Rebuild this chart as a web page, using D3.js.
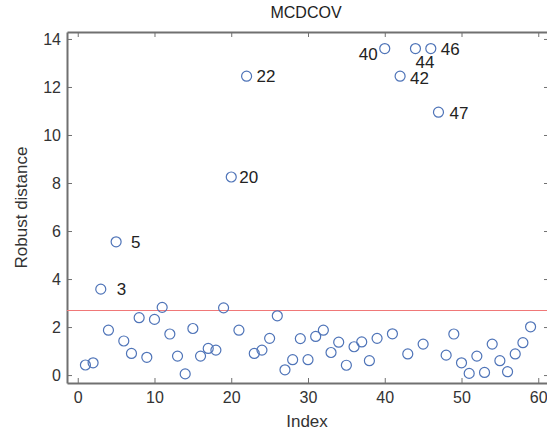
<!DOCTYPE html>
<html>
<head>
<meta charset="utf-8">
<script src="https://cdn.jsdelivr.net/npm/d3@7"></script>
<style>
  body { margin: 0; background: #fff; }
  svg { font-family: "Liberation Sans", Arial, sans-serif; }
</style>
</head>
<body>
<div id="chart"></div>
<script>
// robust distance for each observation (index 1..59)
const distances = [
    0.42, 0.51, 3.58, 1.87, 5.55, 1.42, 0.90, 2.39, 0.74, 2.32,
    2.82, 1.71, 0.79, 0.05, 1.94, 0.79, 1.11, 1.04, 2.80, 8.25,
    1.87, 12.45, 0.90, 1.04, 1.53, 2.47, 0.22, 0.64, 1.52, 0.64,
    1.61, 1.87, 0.94, 1.37, 0.41, 1.18, 1.38, 0.60, 1.53, 13.6,
    1.72, 12.45, 0.88, 13.6, 1.29, 13.6, 10.95, 0.83, 1.71, 0.51,
    0.07, 0.79, 0.11, 1.29, 0.60, 0.14, 0.88, 1.35, 2.01
];
const cutoff = 2.72;
const outliers = [3, 5, 20, 22, 40, 42, 44, 46, 47];
const xTicks = [0, 10, 20, 30, 40, 50, 60];
const yTicks = [0, 2, 4, 6, 8, 10, 12, 14];

// label offsets in px (dx, dy) relative to point
const labelOffset = {
    3: [16, 0], 5: [15, 0], 20: [8, 0], 22: [10, 0],
    40: [-7, 5], 42: [10, 2], 44: [0, 13], 46: [10, 0], 47: [11, 1]
};

const width = 547, height = 441;
const margin = { top: 32, right: -2, bottom: 58, left: 67 };
const axisColor = "#707070";

const svg = d3.select("#chart").append("svg")
    .attr("width", width).attr("height", height);

const x = d3.scaleLinear()
    .domain([-1.4, 61.4])
    .range([margin.left, width - margin.right]);
const y = d3.scaleLinear()
    .domain([-0.33, 14.29])
    .range([height - margin.bottom, margin.top]);

const x0 = margin.left, x1 = width - margin.right;
const y0 = height - margin.bottom, y1 = margin.top;

// Axes (ticks inward, box)
const axBottom = svg.append("g")
    .attr("transform", `translate(0,${y0})`)
    .call(d3.axisBottom(x).tickValues(xTicks).tickSizeInner(-5).tickSizeOuter(0).tickPadding(9));
const axTop = svg.append("g")
    .attr("transform", `translate(0,${y1})`)
    .call(d3.axisTop(x).tickValues(xTicks).tickSizeInner(-5).tickSizeOuter(0).tickFormat(""));
const axLeft = svg.append("g")
    .attr("transform", `translate(${x0},0)`)
    .call(d3.axisLeft(y).tickValues(yTicks).tickSizeInner(-5).tickSizeOuter(0).tickPadding(6));
const axRight = svg.append("g")
    .attr("transform", `translate(${x1},0)`)
    .call(d3.axisRight(y).tickValues(yTicks).tickSizeInner(-5).tickSizeOuter(0).tickFormat(""));

[axBottom, axTop, axLeft, axRight].forEach(g => {
    g.select(".domain").attr("stroke", axisColor).attr("stroke-width", 2);
    g.selectAll(".tick line").attr("stroke", axisColor).attr("stroke-width", 1);
    g.selectAll(".tick text").attr("fill", "#333").style("font-size", "16px");
});

// Cutoff line
const yc = Math.round(y(cutoff)) + 0.5;
svg.append("line")
    .attr("x1", x0).attr("x2", x1)
    .attr("y1", yc).attr("y2", yc)
    .attr("stroke", "#f07878")
    .attr("stroke-width", 1);

// Points
svg.selectAll(".pt")
    .data(distances)
    .enter()
    .append("circle")
    .attr("class", "pt")
    .attr("cx", (d, i) => x(i + 1))
    .attr("cy", d => y(d))
    .attr("r", 5)
    .attr("fill", "none")
    .attr("stroke", "#4f74b8")
    .attr("stroke-width", 1.2);

// Outlier labels
svg.selectAll(".lab")
    .data(outliers)
    .enter()
    .append("text")
    .attr("class", "lab")
    .attr("x", d => x(d) + labelOffset[d][0])
    .attr("y", d => y(distances[d - 1]) + labelOffset[d][1])
    .attr("dy", "0.36em")
    .attr("text-anchor", d => labelOffset[d][0] < 0 ? "end" : "start")
    .attr("fill", "#222")
    .style("font-size", "17px")
    .text(d => d);

// Title and axis labels
svg.append("text")
    .attr("x", (x0 + x1) / 2 - 2)
    .attr("y", 18)
    .attr("text-anchor", "middle")
    .attr("fill", "#222")
    .style("font-size", "16px")
    .text("MCDCOV");

svg.append("text")
    .attr("x", (x0 + x1) / 2 - 1)
    .attr("y", 427)
    .attr("text-anchor", "middle")
    .attr("fill", "#333")
    .style("font-size", "17px")
    .text("Index");

svg.append("text")
    .attr("transform", `translate(27,${(y0 + y1) / 2}) rotate(-90)`)
    .attr("text-anchor", "middle")
    .attr("fill", "#333")
    .style("font-size", "17px")
    .text("Robust distance");
</script>
</body>
</html>
